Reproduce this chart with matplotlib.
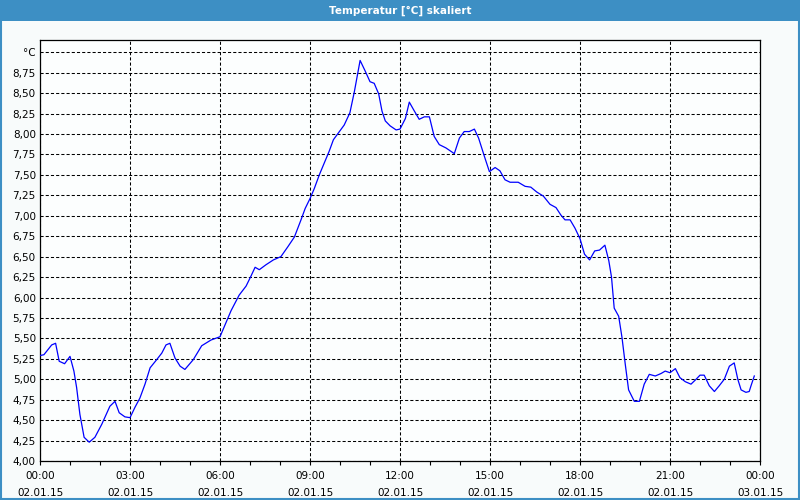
import matplotlib
matplotlib.use("Agg")
import matplotlib.pyplot as plt
from matplotlib.patches import Rectangle
from matplotlib.ticker import FixedLocator, FuncFormatter

# hours since 02.01.15 00:00 and temperature in degC
hours = [0.0, 0.13, 0.28, 0.39, 0.52, 0.64, 0.82, 1.0, 1.13, 1.22, 1.33, 1.47, 1.64, 1.83,
         2.06, 2.33, 2.5, 2.64, 2.83, 3.0, 3.17, 3.33, 3.5, 3.67, 3.89, 4.06, 4.2, 4.33,
         4.5, 4.67, 4.83, 5.11, 5.39, 5.7, 6.0, 6.14, 6.37, 6.64, 6.87, 7.03, 7.17, 7.31,
         7.53, 7.78, 8.03, 8.26, 8.48, 8.7, 8.84, 9.0, 9.14, 9.31, 9.48, 9.64, 9.78, 9.98,
         10.14, 10.33, 10.48, 10.67, 10.84, 11.0, 11.14, 11.29, 11.4, 11.51, 11.67, 11.87,
         12.0, 12.18, 12.31, 12.48, 12.64, 12.81, 12.98, 13.14, 13.31, 13.53, 13.81, 13.98,
         14.14, 14.31, 14.48, 14.62, 14.81, 14.98, 15.17, 15.33, 15.5, 15.67, 15.94, 16.17,
         16.36, 16.56, 16.78, 17.0, 17.2, 17.36, 17.5, 17.67, 17.83, 18.0, 18.15, 18.32,
         18.49, 18.65, 18.83, 18.96, 19.05, 19.14, 19.29, 19.4, 19.51, 19.62, 19.81, 19.98,
         20.14, 20.31, 20.51, 20.7, 20.84, 21.0, 21.18, 21.33, 21.51, 21.7, 21.87, 22.0,
         22.14, 22.31, 22.48, 22.64, 22.81, 22.98, 23.14, 23.26, 23.37, 23.53, 23.64, 23.7,
         23.81]
temps = [5.29, 5.30, 5.37, 5.42, 5.44, 5.22, 5.19, 5.28, 5.10, 4.90, 4.57, 4.29, 4.23, 4.29,
         4.45, 4.67, 4.73, 4.59, 4.54, 4.53, 4.66, 4.77, 4.94, 5.14, 5.24, 5.32, 5.42, 5.44,
         5.26, 5.16, 5.12, 5.24, 5.41, 5.48, 5.52, 5.64, 5.84, 6.03, 6.14, 6.26, 6.37, 6.34,
         6.40, 6.46, 6.50, 6.62, 6.74, 6.95, 7.09, 7.21, 7.33, 7.50, 7.65, 7.79, 7.93, 8.03,
         8.11, 8.26, 8.52, 8.90, 8.77, 8.64, 8.62, 8.49, 8.28, 8.16, 8.10, 8.05,
         8.06, 8.19, 8.39, 8.28, 8.18, 8.21, 8.21, 7.97, 7.87, 7.83, 7.76, 7.95,
         8.03, 8.03, 8.06, 7.95, 7.73, 7.54, 7.59, 7.55, 7.44, 7.41, 7.41, 7.36,
         7.35, 7.29, 7.24, 7.14, 7.10, 7.01, 6.95, 6.95, 6.85, 6.72, 6.53, 6.46,
         6.57, 6.58, 6.64, 6.45, 6.25, 5.87, 5.77, 5.51, 5.18, 4.87, 4.73, 4.73,
         4.94, 5.06, 5.04, 5.07, 5.10, 5.08, 5.13, 5.02, 4.97, 4.94, 5.00, 5.05,
         5.05, 4.92, 4.85, 4.92, 5.00, 5.16, 5.20, 5.00, 4.87, 4.84, 4.85, 4.92,
         5.04]

x_ticks = [0, 3, 6, 9, 12, 15, 18, 21, 24]
x_labels = ["00:00\n02.01.15", "03:00\n02.01.15", "06:00\n02.01.15", "09:00\n02.01.15",
            "12:00\n02.01.15", "15:00\n02.01.15", "18:00\n02.01.15", "21:00\n02.01.15",
            "00:00\n03.01.15"]
y_ticks = [4.0, 4.25, 4.5, 4.75, 5.0, 5.25, 5.5, 5.75, 6.0, 6.25, 6.5, 6.75,
           7.0, 7.25, 7.5, 7.75, 8.0, 8.25, 8.5, 8.75, 9.0]
title = "Temperatur [°C] skaliert"

plt.rcParams['font.family'] = ['DejaVu Sans']
fig = plt.figure(figsize=(8, 5), dpi=100, facecolor='#f8fbfb')

# title bar and window frame
fig.patches.append(Rectangle((0, 0.958), 1, 0.042, transform=fig.transFigure,
                             facecolor='#3d8fc4', edgecolor='none', zorder=0))
fig.patches.append(Rectangle((0.0012, 0.002), 0.9976, 0.996, transform=fig.transFigure,
                             facecolor='none', edgecolor='#3d8fc4', linewidth=1.5, zorder=1))
fig.text(0.5, 0.979, title, color='white', fontsize=7.5, fontweight='bold',
         ha='center', va='center')

ax = fig.add_axes([0.05, 0.078, 0.90, 0.842])
ax.set_facecolor('#fcfefe')
ax.plot(hours, temps, color='#0000ff', linewidth=0.9, zorder=3)

ax.set_xlim(0, 24)
ax.set_ylim(4.0, 9.15)

ax.xaxis.set_major_locator(FixedLocator(x_ticks))
ax.xaxis.set_minor_locator(FixedLocator(range(0, 25)))
ax.set_xticklabels(x_labels, fontsize=7.5, linespacing=1.85)
ax.tick_params(axis='x', which='both', direction='out', length=3, width=0.8, pad=4)

ax.yaxis.set_major_locator(FixedLocator(y_ticks))
ax.yaxis.set_major_formatter(FuncFormatter(
    lambda v, p: "°C" if abs(v - 9.0) < 1e-6 else f"{v:.2f}".replace(".", ",")))
ax.tick_params(axis='y', which='major', length=0, pad=3, labelsize=7.5)

ax.grid(True, which='major', color='black', linestyle=(0, (3, 2)), linewidth=0.75)
for s in ax.spines.values():
    s.set_linewidth(0.9)
    s.set_color('black')

fig.savefig('out.png', dpi=100, facecolor=fig.get_facecolor())
